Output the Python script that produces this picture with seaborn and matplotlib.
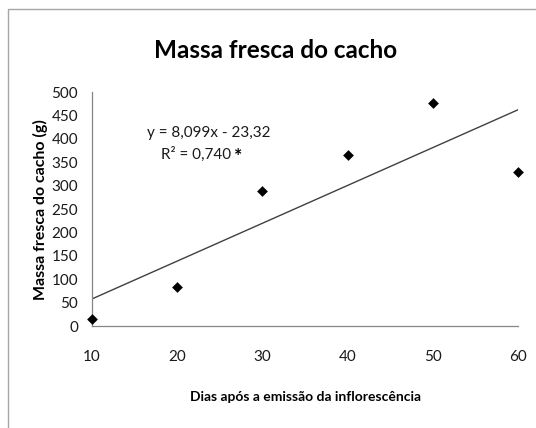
#! /bin/env python3

''' Massa fresca do cacho vs dias apos emissao da inflorescencia '''

import matplotlib
matplotlib.use('Agg')
import matplotlib.pyplot as plt
from matplotlib.patches import Rectangle
import seaborn as sns
from pandas import DataFrame

# values
dias = [10, 20, 30, 40, 50, 60]
massa = [15, 84, 289, 365, 477, 330]
y_ticks = [0, 50, 100, 150, 200, 250, 300, 350, 400, 450, 500]
x_ticks = [10, 20, 30, 40, 50, 60]

eq_text = "y = 8,099x - 23,32"
r2_text = "R² = 0,740"


def _main():
    sns.set_theme(style="white")
    plt.rcParams['font.family'] = ['Lato', 'DejaVu Sans']

    data = DataFrame({"dias": dias, "massa": massa})

    fig = plt.figure(figsize=(5.36, 4.28), dpi=100)
    ax = fig.add_axes([0.1716, 0.2383, 0.795, 0.5467])

    sns.regplot(data=data, x="dias", y="massa", ci=None, truncate=True,
                marker="D", color="black", ax=ax,
                scatter_kws={"s": 30, "clip_on": False, "zorder": 3,
                             "linewidths": 0, "alpha": 1,
                             "facecolor": "black"},
                line_kws={"color": "#404040", "linewidth": 1.0})

    ax.set_xlim(10, 60)
    ax.set_ylim(0, 500)
    ax.set_xticks(x_ticks)
    ax.set_yticks(y_ticks)
    ax.tick_params(axis='both', length=0, labelsize=11, colors='#1a1a1a')
    ax.tick_params(axis='x', pad=17)
    ax.tick_params(axis='y', pad=10)

    for side in ["top", "right"]:
        ax.spines[side].set_visible(False)
    for side in ["left", "bottom"]:
        ax.spines[side].set_color("#868686")
        ax.spines[side].set_linewidth(0.9)

    ax.set_xlabel("")
    ax.set_ylabel("")

    ax.text(23.7, 412, eq_text, ha="center", va="center",
            fontsize=11, color="#1a1a1a")
    ax.text(26.3, 367, r2_text, ha="right", va="center",
            fontsize=11, color="#1a1a1a")
    ax.text(27.1, 362, "*", ha="center", va="center",
            fontsize=14, fontweight="bold", color="black")

    fig.text(276 / 536, 1 - 50 / 428, "Massa fresca do cacho",
             ha="center", va="center", fontsize=17.5, fontweight="bold",
             color="black")
    fig.text(40 / 536, 1 - 210 / 428, "Massa fresca do cacho (g)",
             ha="center", va="center", rotation=90, fontsize=11.5,
             fontweight="bold", color="black")
    fig.text(306 / 536, 1 - 397 / 428, "Dias após a emissão da inflorescência",
             ha="center", va="center", fontsize=10, fontweight="bold",
             color="black")

    # outer chart frame (only left and top edges are visible)
    fig.add_artist(Rectangle((8 / 536, -0.1), 2, 1 - 9 / 428 + 0.1,
                             transform=fig.transFigure, fill=False,
                             edgecolor="#a6a6a6", linewidth=1))

    fig.savefig("out.png", dpi=100)


if __name__ == "__main__":
    _main()
